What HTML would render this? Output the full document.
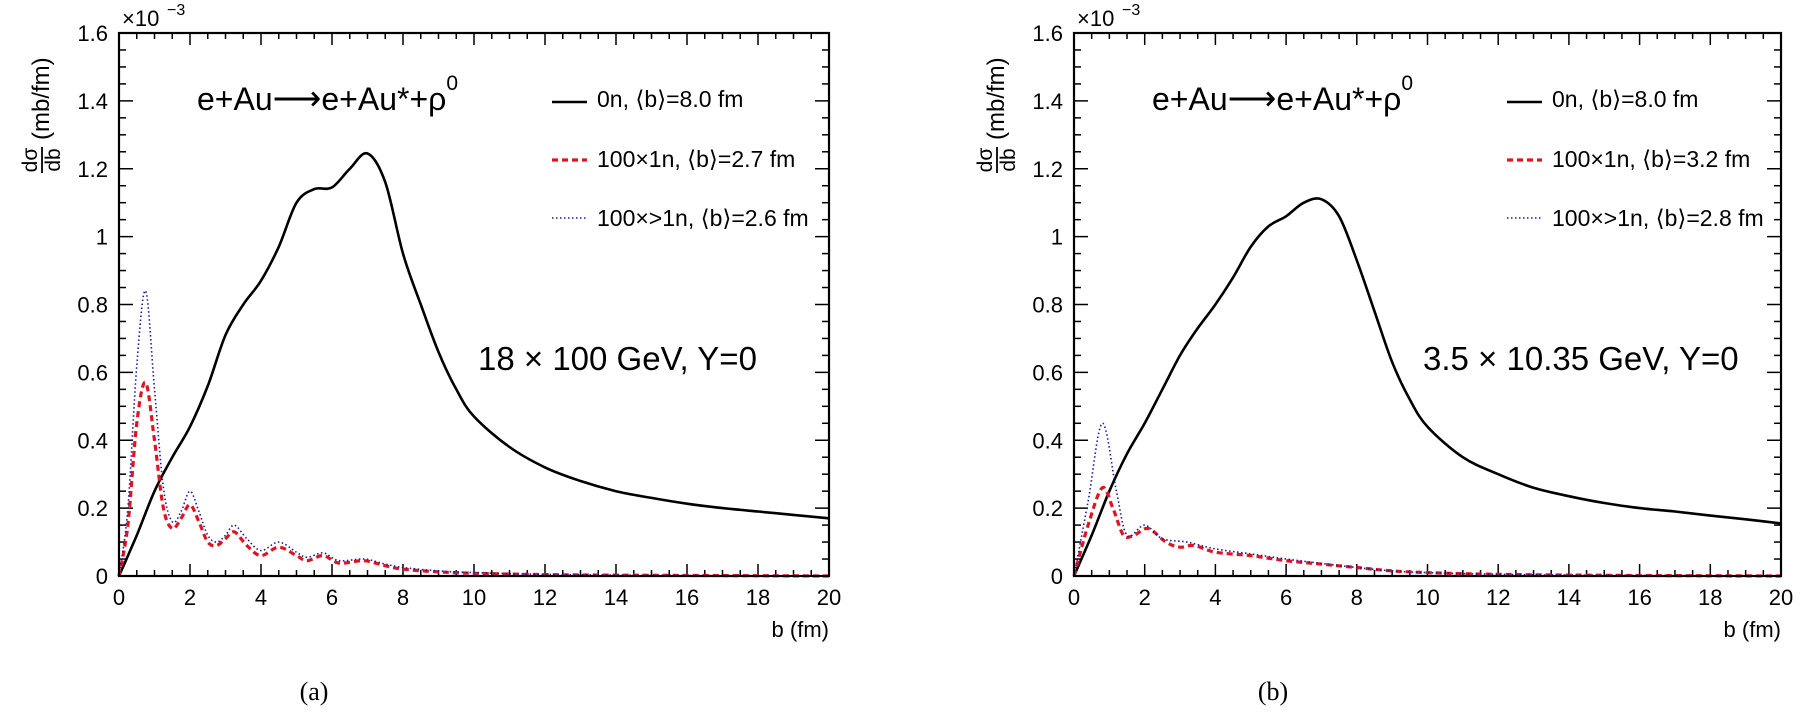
<!DOCTYPE html>
<html><head><meta charset="utf-8"><style>
body{margin:0;background:#fff;width:1806px;height:718px;overflow:hidden}
svg text{font-family:"Liberation Sans",sans-serif}
</style></head><body>
<svg id="s" width="1806" height="718" xmlns="http://www.w3.org/2000/svg"></svg>
<script>
const S=document.getElementById('s');
let out='';
function smooth(pts){
 let d='M'+pts[0][0].toFixed(1)+','+pts[0][1].toFixed(1);
 for(let i=0;i<pts.length-1;i++){
  const p0=pts[Math.max(0,i-1)],p1=pts[i],p2=pts[i+1],p3=pts[Math.min(pts.length-1,i+2)];
  const c1=[p1[0]+(p2[0]-p0[0])/6,p1[1]+(p2[1]-p0[1])/6];
  const c2=[p2[0]-(p3[0]-p1[0])/6,p2[1]-(p3[1]-p1[1])/6];
  d+=' C'+c1[0].toFixed(1)+','+c1[1].toFixed(1)+' '+c2[0].toFixed(1)+','+c2[1].toFixed(1)+' '+p2[0].toFixed(1)+','+p2[1].toFixed(1);
 }
 return d;
}
function panel(x0,x1,data,leg,energy,ex,sub,subx){
 const y0=576,y1=33;
 const X=b=>x0+(x1-x0)*b/20, Y=v=>y0-(y0-y1)*v/1.6;
 let g='';
 for(let i=0;i<=40;i++){const b=i*0.5,L=(i%4==0)?12:6,x=X(b);
  g+=`<line x1="${x}" y1="${y0}" x2="${x}" y2="${y0-L}" stroke="#000" stroke-width="1.5"/>`;
  g+=`<line x1="${x}" y1="${y1}" x2="${x}" y2="${y1+L}" stroke="#000" stroke-width="1.5"/>`;
  if(i%4==0) g+=`<text x="${x}" y="605" font-size="22" text-anchor="middle">${b}</text>`;}
 for(let i=0;i<=32;i++){const v=i*0.05,L=(i%4==0)?14:7,y=Y(v);
  g+=`<line x1="${x0}" y1="${y}" x2="${x0+L}" y2="${y}" stroke="#000" stroke-width="1.5"/>`;
  g+=`<line x1="${x1}" y1="${y}" x2="${x1-L}" y2="${y}" stroke="#000" stroke-width="1.5"/>`;
  if(i%4==0){let t=(i/20).toFixed(1).replace(/\.0$/,'');g+=`<text x="${x0-11}" y="${y+8}" font-size="22" text-anchor="end">${t}</text>`;}}
 g+=`<text x="${x0+3}" y="26" font-size="22">×10</text><text x="${x0+48}" y="15" font-size="16">−3</text>`;
 g+=`<text x="${x1}" y="637" font-size="22" text-anchor="end">b (fm)</text>`;
 g+=`<g transform="translate(${x0-80},160) rotate(-90)"><text x="0" y="-2" font-size="21" text-anchor="middle">dσ</text><line x1="-13" y1="3" x2="13" y2="3" stroke="#000" stroke-width="1.8"/><text x="0" y="21" font-size="21" text-anchor="middle">db</text><text x="20" y="10" font-size="24">(mb/fm)</text></g>`;
 const st=[['#000',2.6,''],['#e0141e',3.2,'6,4'],['#1a1aa0',1.6,'1.5,2.5']];
 data.forEach((d,k)=>{const pts=d.map(p=>[X(p[0]),Y(p[1])]);
  g+=`<path d="${smooth(pts)}" fill="none" stroke="${st[k][0]}" stroke-width="${st[k][1]}" ${st[k][2]?'stroke-dasharray="'+st[k][2]+'"':''}/>`;});
 g+=`<rect x="${x0}" y="${y1}" width="${x1-x0}" height="${y0-y1}" fill="none" stroke="#000" stroke-width="2.2"/>`;
 g+=`<text x="${x0+78}" y="110" font-size="32">e+Au<tspan font-size="34">⟶</tspan>e+Au*+ρ<tspan font-size="21" dy="-20">0</tspan></text>`;
 const ly=[102,160,218],ty=[107,167,226];
 leg.forEach((t,k)=>{g+=`<line x1="${x0+433}" y1="${ly[k]}" x2="${x0+468}" y2="${ly[k]}" stroke="${st[k][0]}" stroke-width="${st[k][1]}" ${st[k][2]?'stroke-dasharray="'+st[k][2]+'"':''}/>`;
  g+=`<text x="${x0+478}" y="${ty[k]}" font-size="23">${t}</text>`;});
 g+=`<text x="${ex}" y="370" font-size="33">${energy}</text>`;
 g+=`<text x="${subx}" y="700" font-size="26" style="font-family:'Liberation Serif',serif" text-anchor="middle">${sub}</text>`;
 out+=g;
}
const Lb=[[0,0],[0.5,0.12],[1,0.25],[1.5,0.35],[2,0.44],[2.5,0.56],[3,0.71],[3.5,0.8],[4,0.87],[4.5,0.97],[5,1.1],[5.5,1.14],[6,1.145],[6.5,1.2],[7,1.245],[7.5,1.16],[8,0.95],[8.5,0.8],[9,0.66],[9.5,0.55],[10,0.47],[11,0.38],[12,0.32],[13,0.28],[14,0.25],[15,0.23],[16,0.213],[17,0.2],[18,0.19],[19,0.18],[20,0.17]];
const Lr=[[0,0],[0.25,0.15],[0.5,0.45],[0.75,0.57],[1,0.4],[1.25,0.2],[1.5,0.14],[1.75,0.17],[2,0.21],[2.25,0.16],[2.5,0.1],[2.75,0.09],[3,0.11],[3.25,0.13],[3.6,0.09],[4,0.06],[4.5,0.085],[5,0.06],[5.3,0.045],[5.75,0.06],[6.2,0.038],[6.9,0.045],[7.5,0.03],[8,0.02],[9,0.012],[10,0.008],[12,0.004],[15,0.002],[20,0]];
const Lu=[[0,0],[0.25,0.2],[0.5,0.62],[0.75,0.84],[1,0.55],[1.25,0.26],[1.5,0.16],[1.75,0.19],[2,0.25],[2.25,0.19],[2.5,0.12],[2.75,0.1],[3,0.12],[3.25,0.15],[3.6,0.11],[4,0.075],[4.5,0.1],[5,0.07],[5.3,0.055],[5.75,0.068],[6.2,0.045],[6.9,0.05],[7.5,0.035],[8,0.025],[9,0.015],[10,0.01],[12,0.005],[15,0.002],[20,0]];
const Rb=[[0,0],[0.5,0.12],[1,0.25],[1.5,0.36],[2,0.45],[2.5,0.55],[3,0.65],[3.5,0.73],[4,0.8],[4.5,0.88],[5,0.97],[5.5,1.03],[6,1.06],[6.5,1.1],[7,1.11],[7.5,1.06],[8,0.93],[8.5,0.78],[9,0.63],[9.5,0.52],[10,0.44],[11,0.35],[12,0.3],[13,0.26],[14,0.235],[15,0.215],[16,0.2],[17,0.19],[18,0.178],[19,0.167],[20,0.155]];
const Rr=[[0,0],[0.4,0.15],[0.8,0.26],[1.1,0.2],[1.4,0.12],[1.7,0.12],[2.1,0.14],[2.6,0.1],[3,0.085],[3.4,0.09],[4,0.07],[5,0.06],[6,0.045],[7,0.035],[8,0.025],[9,0.015],[10,0.01],[12,0.005],[15,0.002],[20,0]];
const Ru=[[0,0],[0.4,0.22],[0.8,0.45],[1.2,0.25],[1.5,0.12],[2,0.15],[2.5,0.11],[3.2,0.1],[4,0.08],[5,0.065],[6,0.05],[7,0.037],[8,0.025],[9,0.015],[10,0.01],[12,0.005],[15,0.002],[20,0]];
panel(119,829,[Lb,Lr,Lu],['0n, ⟨b⟩=8.0 fm','100×1n, ⟨b⟩=2.7 fm','100×&gt;1n, ⟨b⟩=2.6 fm'],'18 × 100 GeV, Y=0',478,'(a)',314);
panel(1074,1781,[Rb,Rr,Ru],['0n, ⟨b⟩=8.0 fm','100×1n, ⟨b⟩=3.2 fm','100×&gt;1n, ⟨b⟩=2.8 fm'],'3.5 × 10.35 GeV, Y=0',1423,'(b)',1273);
S.innerHTML=out;
</script>
</body></html>
